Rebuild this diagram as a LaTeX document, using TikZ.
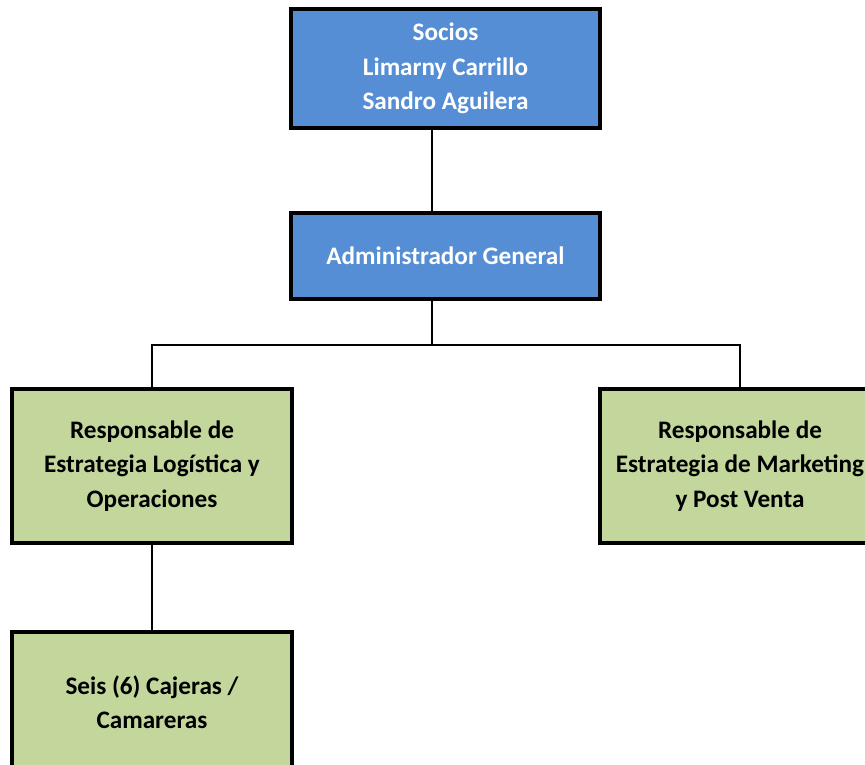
\documentclass[tikz,border=0pt]{standalone}
\usepackage{fontspec}
\setmainfont{Carlito}
\usepackage{xcolor}
\usetikzlibrary{positioning,calc}
\definecolor{jefeazul}{HTML}{558ED5}
\definecolor{areaverde}{HTML}{C3D69B}
\tikzset{
    jefe/.style={draw=black, line width=2.8pt, fill=jefeazul, text=white,
        font=\fontsize{21.5}{29.3}\selectfont\bfseries, align=center, minimum width=9.27cm},
    area/.style={draw=black, line width=2.8pt, fill=areaverde, text=black,
        font=\fontsize{21.5}{29.3}\selectfont\bfseries, align=center,
        minimum width=8.4cm, minimum height=4.62cm},
    enlace/.style={draw=black, line width=0.9pt}
}

\begin{document}
\begin{tikzpicture}[x=0.03cm,y=0.03cm]
    \useasboundingbox (0,0) rectangle (865,765);
    \clip (0,0) rectangle (865,765);

    % Direccion
    \node[jefe, minimum height=3.57cm] (socios) at (445.5, 696.5)
        {Socios\\Limarny Carrillo\\Sandro Aguilera};
    \node[jefe, minimum height=2.58cm] (admin) at (445.5, 509) {Administrador General};

    % Areas
    \node[area] (logistica) at (152, 299)
        {Responsable de\\Estrategia Logística y\\Operaciones};
    \node[area] (marketing) at (740, 299)
        {Responsable de\\Estrategia de Marketing\\y Post Venta};
    \node[area, minimum height=4.2cm] (cajeras) at (152, 63)
        {Seis (6) Cajeras /\\Camareras};

    % Lineas
    \coordinate (rama) at (432, 420);
    \draw[enlace] (socios.south -| rama) -- (admin.north -| rama);
    \draw[enlace] (admin.south -| rama) -- (rama);
    \draw[enlace] (rama) -| (logistica.north);
    \draw[enlace] (rama) -| (marketing.north);
    \draw[enlace] (logistica) -- (cajeras);
\end{tikzpicture}
\end{document}
